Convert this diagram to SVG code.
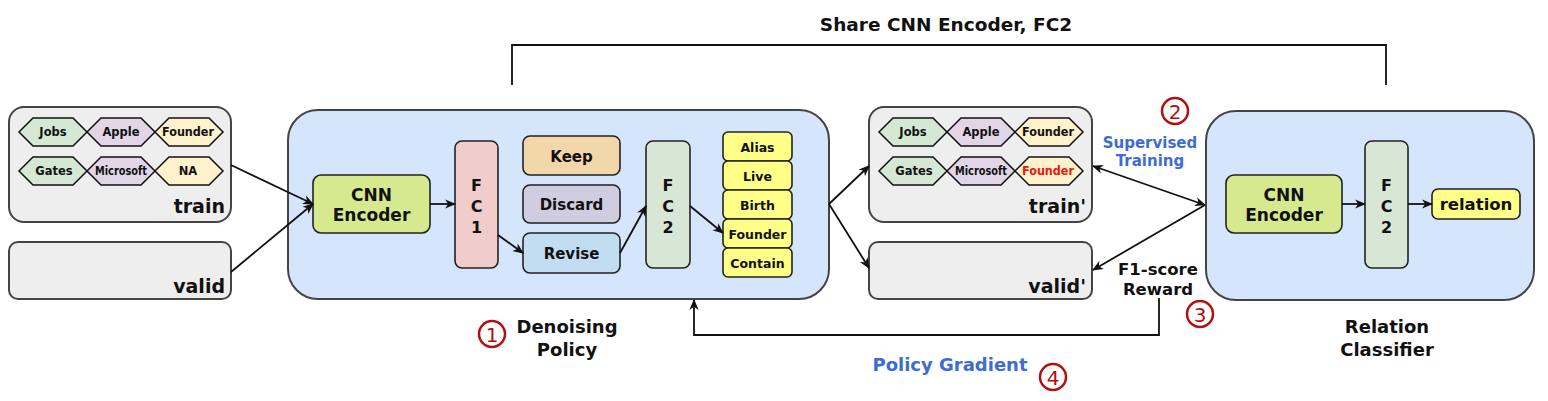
<svg xmlns="http://www.w3.org/2000/svg" width="1548" height="401" viewBox="0 0 1548 401">
<style>
text{font-family:"DejaVu Sans","Liberation Sans",sans-serif;font-weight:bold;fill:#111;text-anchor:middle;dominant-baseline:central}
.gbox{fill:#eeeeee;stroke:#444;stroke-width:2}
.bbox{fill:#d5e5fc;stroke:#444;stroke-width:2}
.n{stroke:#222;stroke-width:1.6}
.hex{stroke:#111;stroke-width:1.5}
.ht{font-size:11.5px}
.big{font-size:19px;text-anchor:end;dominant-baseline:alphabetic}
.lab{font-size:18px}
.blue{fill:#3d6dd0}
.num{fill:#b21010;font-weight:normal;font-size:20px}
.ring{fill:none;stroke:#b21010;stroke-width:2.5}
.c{fill:none;stroke:#111;stroke-width:1.8}
</style>
<defs>
<polygon id="hx" points="-34,0 -20,-14 20,-14 34,0 20,14 -20,14"/>
<marker id="ah" viewBox="0 0 10 10" refX="9" refY="5" markerWidth="11" markerHeight="11" markerUnits="userSpaceOnUse" orient="auto-start-reverse">
<path d="M0,0.8 L10,5 L0,9.2 L2.8,5 Z" fill="#111"/>
</marker>
</defs>

<g id="train">
<rect class="gbox" x="9" y="107" width="222" height="115" rx="15"/>
<use href="#hx" x="53" y="132" class="hex" fill="#d5e8d4"/>
<use href="#hx" x="121" y="132" class="hex" fill="#e1d5e7"/>
<use href="#hx" x="189" y="132" class="hex" fill="#fff2cc"/>
<use href="#hx" x="53" y="171" class="hex" fill="#d5e8d4"/>
<use href="#hx" x="121" y="171" class="hex" fill="#e1d5e7"/>
<use href="#hx" x="189" y="171" class="hex" fill="#fff2cc"/>
<text class="ht" x="53" y="132">Jobs</text>
<text class="ht" x="121" y="132">Apple</text>
<text class="ht" x="188" y="132" textLength="52" lengthAdjust="spacingAndGlyphs">Founder</text>
<text class="ht" x="54" y="171">Gates</text>
<text class="ht" x="121" y="171" textLength="52" lengthAdjust="spacingAndGlyphs">Microsoft</text>
<text class="ht" x="188" y="171">NA</text>
<text class="big" x="225" y="213">train</text>
</g>

<g id="valid">
<rect class="gbox" x="9" y="242" width="222" height="57" rx="9"/>
<text class="big" x="225" y="293">valid</text>
</g>

<g id="denoising-policy">
<rect class="bbox" x="288" y="110" width="541" height="189" rx="30"/>
<text class="lab" x="567" y="326">Denoising</text>
<text class="lab" x="567" y="349">Policy</text>
<circle class="ring" cx="492" cy="334" r="13"/>
<text class="num" x="492" y="335">1</text>
</g>

<g id="dp-encoder">
<rect class="n" x="313" y="175" width="117" height="58" rx="8" fill="#d7e98f"/>
<text x="371.5" y="195" font-size="17">CNN</text>
<text x="371.5" y="215" font-size="17">Encoder</text>
</g>

<g id="dp-fc1">
<rect class="n" x="455" y="141" width="43" height="127" rx="7" fill="#f0cccb"/>
<text x="476.5" y="185" font-size="16">F</text>
<text x="476.5" y="206" font-size="16">C</text>
<text x="476.5" y="227" font-size="16">1</text>
</g>

<g id="keep">
<rect class="n" x="523" y="136" width="97" height="39" rx="7" fill="#f2d7ab"/>
<text x="571.5" y="157" font-size="15">Keep</text>
</g>
<g id="discard">
<rect class="n" x="523" y="185" width="97" height="38" rx="7" fill="#d1cde1"/>
<text x="571.5" y="205" font-size="15">Discard</text>
</g>
<g id="revise">
<rect class="n" x="523" y="233" width="97" height="40" rx="7" fill="#c1ddef"/>
<text x="571.5" y="254" font-size="15">Revise</text>
</g>

<g id="dp-fc2">
<rect class="n" x="646" y="141" width="44" height="127" rx="7" fill="#d8e6d5"/>
<text x="668" y="185" font-size="16">F</text>
<text x="668" y="206" font-size="16">C</text>
<text x="668" y="227" font-size="16">2</text>
</g>

<g id="relations">
<rect class="n" x="723" y="132" width="69" height="29" rx="5" fill="#ffff88"/>
<rect class="n" x="723" y="161" width="69" height="29" rx="5" fill="#ffff88"/>
<rect class="n" x="723" y="190" width="69" height="29" rx="5" fill="#ffff88"/>
<rect class="n" x="723" y="219" width="69" height="29" rx="5" fill="#ffff88"/>
<rect class="n" x="723" y="248" width="69" height="29" rx="5" fill="#ffff88"/>
<text x="757.5" y="147" font-size="12.5">Alias</text>
<text x="757.5" y="176" font-size="12.5">Live</text>
<text x="757.5" y="205" font-size="12.5">Birth</text>
<text x="757.5" y="234" font-size="12.5">Founder</text>
<text x="757.5" y="263" font-size="12.5">Contain</text>
</g>

<g id="train-prime">
<rect class="gbox" x="869" y="107" width="223" height="115" rx="15"/>
<use href="#hx" x="913" y="132" class="hex" fill="#d5e8d4"/>
<use href="#hx" x="981" y="132" class="hex" fill="#e1d5e7"/>
<use href="#hx" x="1049" y="132" class="hex" fill="#fff2cc"/>
<use href="#hx" x="913" y="171" class="hex" fill="#d5e8d4"/>
<use href="#hx" x="981" y="171" class="hex" fill="#e1d5e7"/>
<use href="#hx" x="1049" y="171" class="hex" fill="#fff2cc"/>
<text class="ht" x="913" y="132">Jobs</text>
<text class="ht" x="981" y="132">Apple</text>
<text class="ht" x="1048" y="132" textLength="52" lengthAdjust="spacingAndGlyphs">Founder</text>
<text class="ht" x="914" y="171">Gates</text>
<text class="ht" x="981" y="171" textLength="52" lengthAdjust="spacingAndGlyphs">Microsoft</text>
<text class="ht" x="1048" y="171" textLength="52" lengthAdjust="spacingAndGlyphs" style="fill:#e8170f">Founder</text>
<text class="big" x="1086" y="213">train'</text>
</g>

<g id="valid-prime">
<rect class="gbox" x="869" y="242" width="223" height="57" rx="9"/>
<text class="big" x="1086" y="293">valid'</text>
</g>

<g id="relation-classifier">
<rect class="bbox" x="1206" y="111" width="328" height="189" rx="30"/>
<text class="lab" x="1387" y="326">Relation</text>
<text class="lab" x="1387" y="349">Classifier</text>
</g>

<g id="rc-encoder">
<rect class="n" x="1226" y="175" width="116" height="58" rx="8" fill="#d7e98f"/>
<text x="1284" y="195" font-size="17">CNN</text>
<text x="1284" y="215" font-size="17">Encoder</text>
</g>
<g id="rc-fc2">
<rect class="n" x="1365" y="141" width="43" height="127" rx="7" fill="#d8e6d5"/>
<text x="1386.5" y="185" font-size="16">F</text>
<text x="1386.5" y="206" font-size="16">C</text>
<text x="1386.5" y="227" font-size="16">2</text>
</g>
<g id="relation">
<rect class="n" x="1432" y="189" width="88" height="30" rx="6" fill="#ffff88"/>
<text x="1476" y="204" font-size="16.5">relation</text>
</g>

<g id="labels">
<text x="946" y="24" font-size="18.5">Share CNN Encoder, FC2</text>
<text class="blue" x="1150" y="143" font-size="15">Supervised</text>
<text class="blue" x="1150" y="161" font-size="15">Training</text>
<circle class="ring" cx="1175" cy="111" r="13"/>
<text class="num" x="1175" y="112">2</text>
<text x="1158" y="269" font-size="16.5">F1-score</text>
<text x="1158" y="289" font-size="16.5">Reward</text>
<circle class="ring" cx="1200" cy="314" r="13"/>
<text class="num" x="1200" y="315">3</text>
<text class="blue" x="950" y="364" font-size="18">Policy Gradient</text>
<circle class="ring" cx="1053" cy="377" r="13"/>
<text class="num" x="1053" y="378">4</text>
</g>

<g id="connectors">
<path class="c" d="M512,85 V45 H1386 V85"/>
<path class="c" d="M231,165 L313,204" marker-end="url(#ah)"/>
<path class="c" d="M231,272 L313,204" marker-end="url(#ah)"/>
<path class="c" d="M430,204 L455,204" marker-end="url(#ah)"/>
<path class="c" d="M498,235 L523,253" marker-end="url(#ah)"/>
<path class="c" d="M620,253 L646,206" marker-end="url(#ah)"/>
<path class="c" d="M690,206 L723,233" marker-end="url(#ah)"/>
<path class="c" d="M829,204 L869,166" marker-end="url(#ah)"/>
<path class="c" d="M829,204 L869,268" marker-end="url(#ah)"/>
<path class="c" d="M1093,166 L1205,205" marker-start="url(#ah)" marker-end="url(#ah)"/>
<path class="c" d="M1205,205 L1093,270" marker-end="url(#ah)"/>
<path class="c" d="M1159,298 V335 H694 V300" marker-end="url(#ah)"/>
<path class="c" d="M1342,204 L1365,204" marker-end="url(#ah)"/>
<path class="c" d="M1408,204 L1432,204" marker-end="url(#ah)"/>
</g>
</svg>
